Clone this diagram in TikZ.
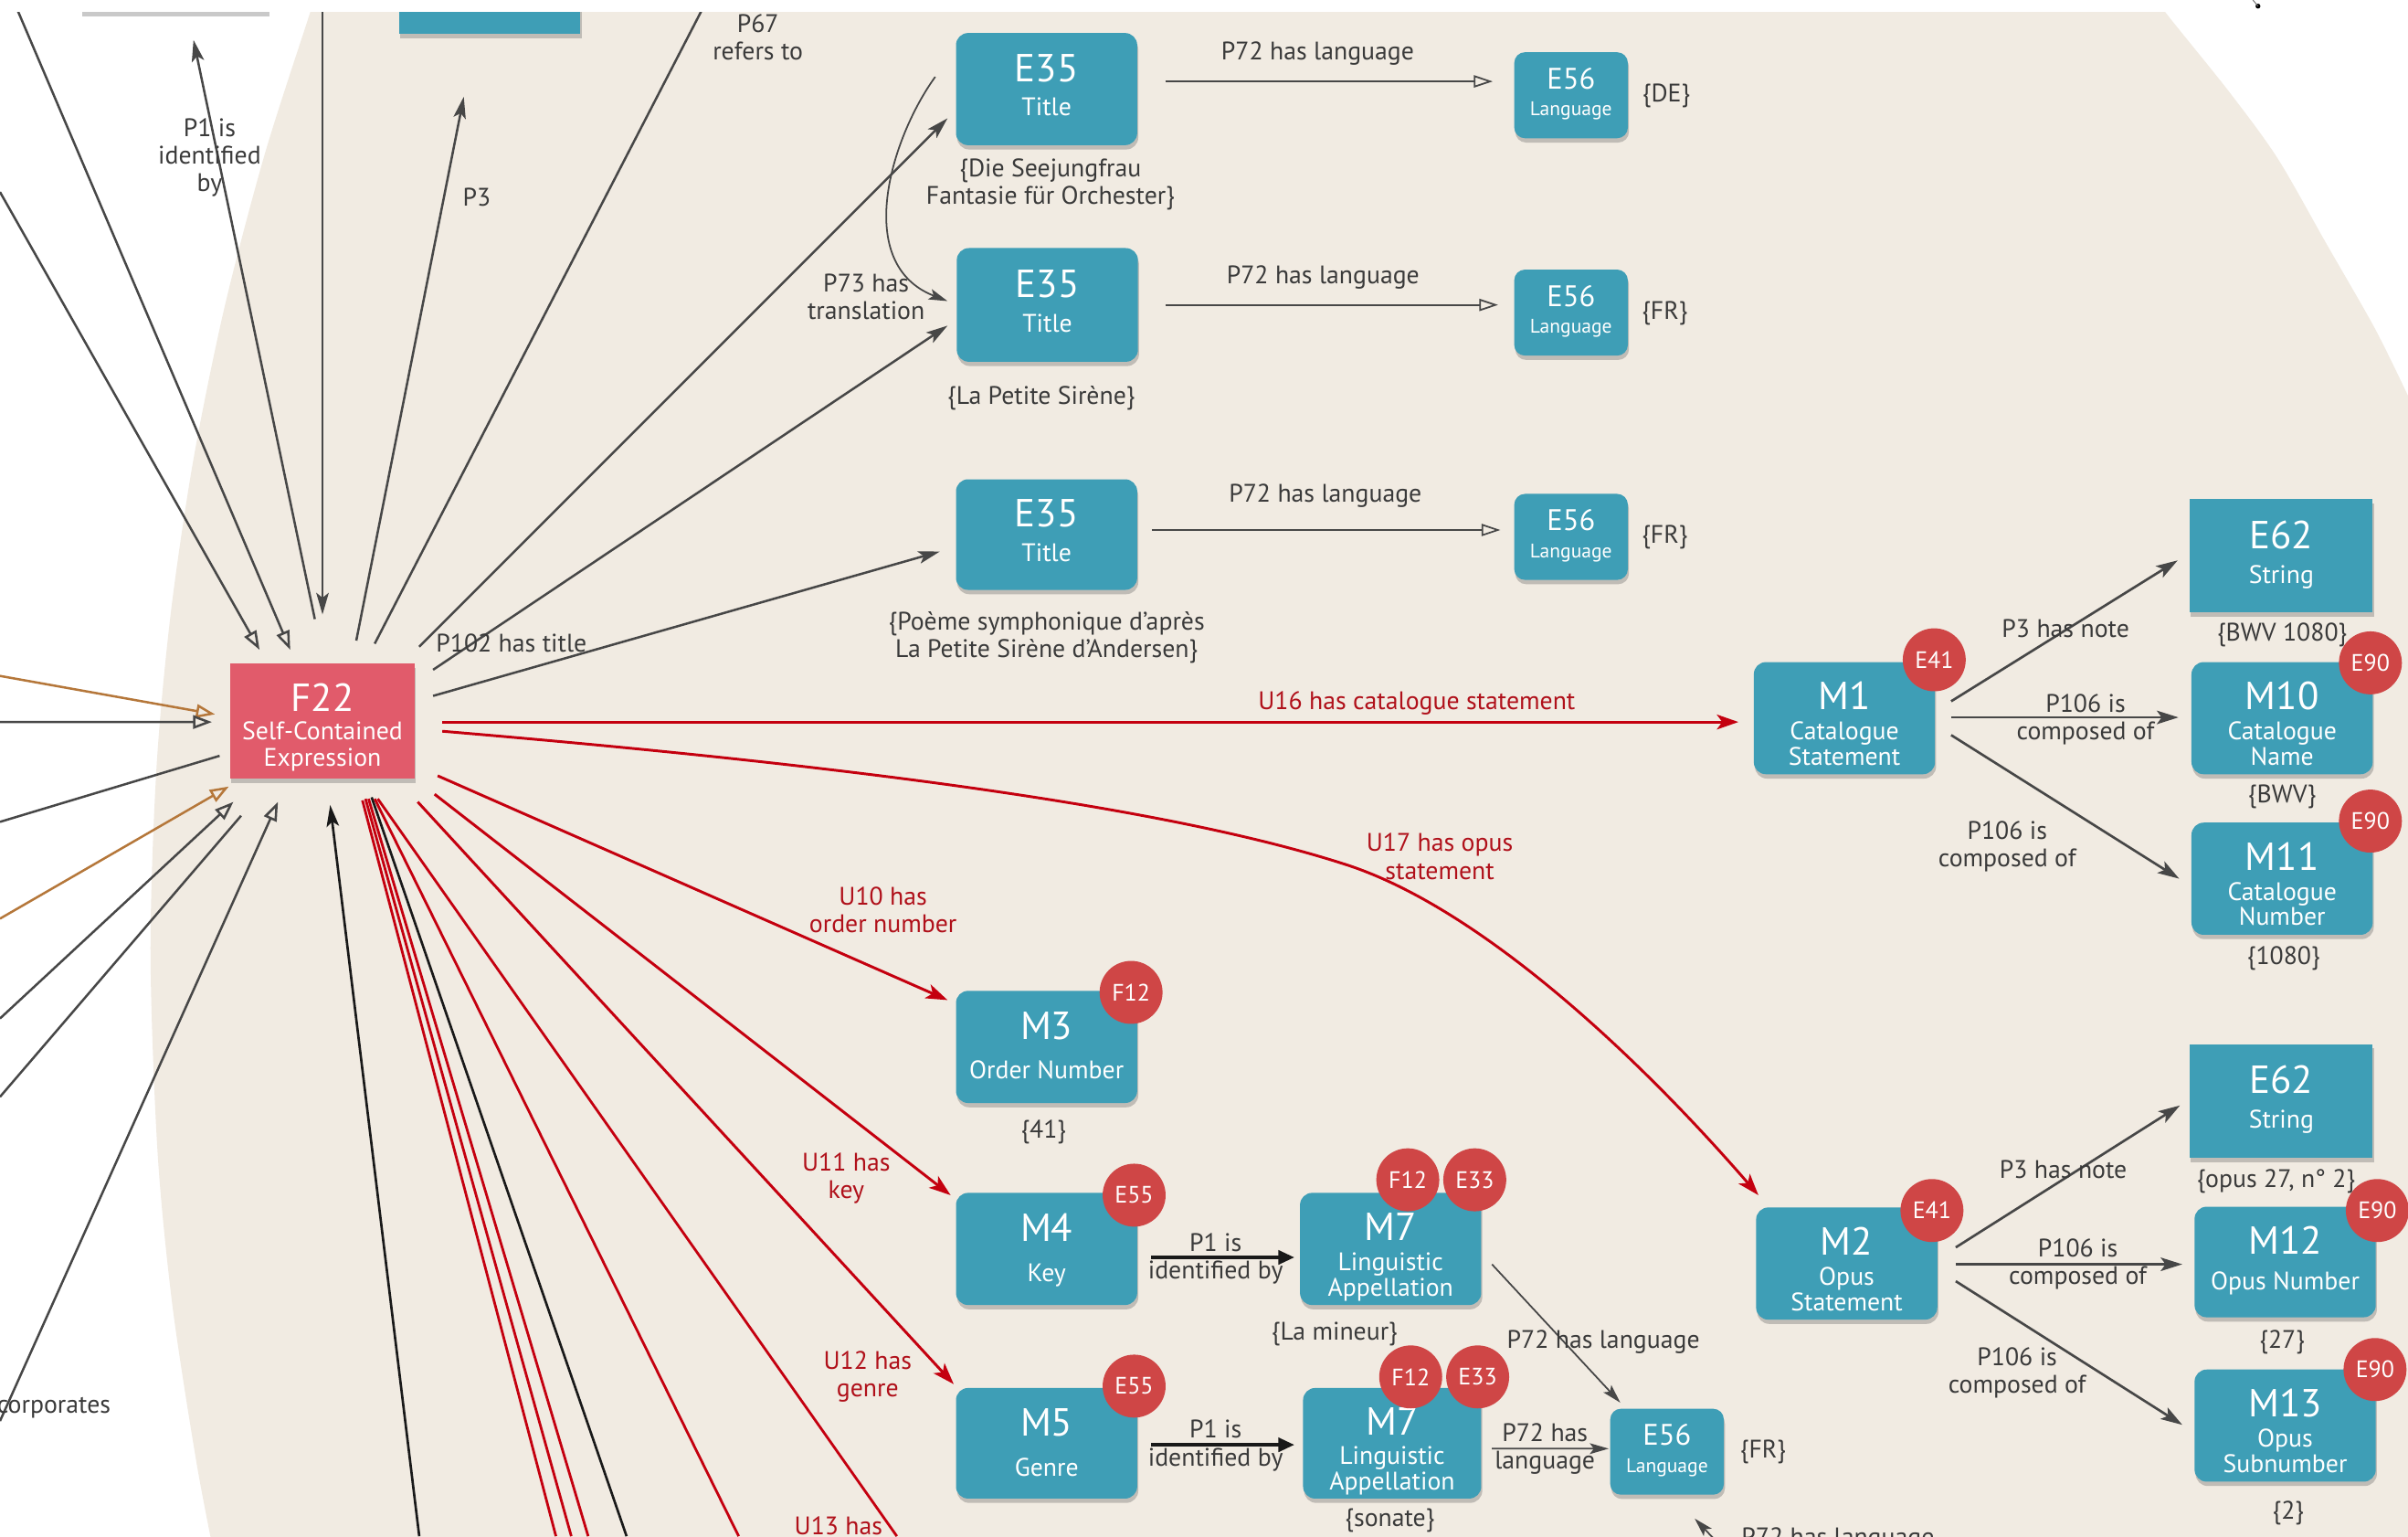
\documentclass[tikz,border=0pt]{standalone}
\usepackage{fontspec}
\setmainfont{PT Sans}
\usetikzlibrary{arrows.meta,shadows}
\definecolor{beigeC}{HTML}{F1EBE2}
\definecolor{tealC}{HTML}{3E9EB6}
\definecolor{pinkC}{HTML}{E15B6B}
\definecolor{circC}{HTML}{CF4646}
\definecolor{redL}{HTML}{C4000F}
\definecolor{redT}{HTML}{B0101A}
\definecolor{greyL}{HTML}{474747}
\definecolor{brownL}{HTML}{B5773A}
\definecolor{txtC}{HTML}{3A3A3A}
\tikzset{
  every node/.style={inner sep=0pt, outer sep=0pt},
  shad/.style={drop shadow={shadow xshift=0.4pt, shadow yshift=-1.6pt, opacity=0.35, fill=black!60}},
  tbox/.style={fill=tealC, rounded corners=4.5pt, shad},
  sbox/.style={fill=tealC, shad},
  pbox/.style={fill=pinkC, shad},
  boxttl/.style={text=white, font=\fontsize{14.5}{16}\selectfont, anchor=base},
  boxsub/.style={text=white, font=\fontsize{9.4}{11}\selectfont, anchor=base},
  badge/.style={circle, fill=circC, text=white, minimum size=0.82cm, font=\fontsize{8.8}{10}\selectfont},
  lbl/.style={text=txtC, font=\fontsize{9.4}{10.2}\selectfont, align=center},
  rlbl/.style={lbl, text=redT},
  val/.style={lbl},
  gline/.style={draw=greyL, line width=0.85pt},
  garr/.style={gline, -{Stealth[length=8pt,width=4.6pt,inset=1.8pt]}},
  garrb/.style={draw=greyL, line width=0.9pt, -{Stealth[length=8pt,width=5pt,inset=1.8pt]}},
  gopen/.style={gline, -{Triangle[open,length=7pt,width=5pt]}},
  bopen/.style={draw=brownL, line width=0.85pt, -{Triangle[open,length=7pt,width=5pt]}},
  kline/.style={draw=black!90, line width=0.9pt},
  kfill/.style={kline, -{Stealth[length=8pt,width=4.6pt,inset=1.8pt]}},
  rline/.style={draw=redL, line width=0.95pt},
  rarr/.style={draw=redL, line width=1pt, -{Stealth[length=8pt,width=5.5pt,inset=2pt]}},
  ptl/.style={draw=greyL, line width=0.6pt, -{Triangle[open,length=7pt,width=4.5pt]}},
  kthick/.style={draw=black!90, line width=1.5pt, -{Triangle[length=6pt,width=5pt]}},
  gthin/.style={draw=greyL, line width=0.6pt, -{Stealth[length=7pt,width=4pt,inset=1.5pt]}},
}
\newcommand{\BoxTwo}[8]{%
  \node[tbox, minimum width=#4*0.02cm, minimum height=#5*0.02cm] (#1) at (#2,#3) {};
  \node[boxttl] (#1t) at (#2,#3-5) {#6};
  \node[boxsub] (#1s) at (#2,#3+#8) {#7};}
\newcommand{\BoxThree}[8]{%
  \node[tbox, minimum width=#4*0.02cm, minimum height=#5*0.02cm] (#1) at (#2,#3) {};
  \node[boxttl] (#1t) at (#2,#3-5.5) {#6};
  \node[boxsub] (#1s) at (#2,#3+14) {#7};
  \node[boxsub] (#1u) at (#2,#3+30.5) {#8};}
\newcommand{\BoxLang}[3]{%
  \node[tbox, rounded corners=4pt, minimum width=74*0.02cm, minimum height=56*0.02cm] (#1) at (#2,#3) {};
  \node[boxttl, font=\fontsize{11}{12}\selectfont] (#1t) at (#2,#3-4) {E56};
  \node[boxsub, font=\fontsize{7.3}{8}\selectfont] (#1s) at (#2,#3+13.5) {Language};}
\newcommand{\BoxSq}[3]{%
  \node[sbox, minimum width=119*0.02cm, minimum height=74*0.02cm] (#1) at (#2,#3) {};
  \node[boxttl] (#1t) at (#2,#3-4.6) {E62};
  \node[boxsub] (#1s) at (#2,#3+18) {String};}
\begin{document}
\begin{tikzpicture}[x=0.02cm,y=-0.02cm]
\useasboundingbox (0,0) rectangle (1568,1000);
\clip (0,0) rectangle (1568,1000);
\fill[white] (0,0) rectangle (1568,1000);
\begin{scope}
\clip (0,8) rectangle (1568,1000);
\fill[beigeC] plot[smooth] coordinates {(204,0) (202,8) (172.5,100) (146.2,200) (125.8,300) (111.1,400) (101.9,500) (98,620) (102.6,750) (112.3,850) (127.6,950) (139,1010)}
  -- (1568,1010) -- plot[smooth] coordinates {(1568,257.7) (1546.5,214) (1514.8,158.6) (1483,103) (1451.3,59.5) (1410,8) (1406,0)} -- cycle;
% cut-off boxes at the top
\node[fill=white, shad, minimum width=122*0.02cm, minimum height=40*0.02cm] (wbox) at (114,-12) {};
\node[sbox, minimum width=118*0.02cm, minimum height=40*0.02cm] (topbox) at (319,2) {};

% ---------- nodes ----------
\node[pbox, minimum width=120*0.02cm, minimum height=75*0.02cm] (F22) at (210,469.5) {};
\node[boxttl] (F22t) at (210,463.2) {F22};
\node[boxsub] (F22s) at (210,481.5) {Self-Contained};
\node[boxsub] (F22u) at (210,498.5) {Expression};

\BoxTwo{E35a}{681.5}{58}{118}{73}{E35}{Title}{17.5}
\BoxTwo{E35b}{682}{198.5}{118}{74}{E35}{Title}{17.5}
\BoxTwo{E35c}{681.5}{348}{118}{72}{E35}{Title}{17.5}
\BoxLang{E56a}{1023}{62}
\BoxLang{E56b}{1023}{203.5}
\BoxLang{E56c}{1023}{349.5}
\BoxLang{E56d}{1085.5}{945}
\BoxThree{M1}{1201}{467.5}{118}{73}{M1}{Catalogue}{Statement}
\BoxThree{M10}{1486}{467.5}{118}{73}{M10}{Catalogue}{Name}
\BoxThree{M11}{1486}{572}{118}{73}{M11}{Catalogue}{Number}
\BoxThree{M2}{1202.5}{822.5}{118}{73}{M2}{Opus}{Statement}
\BoxTwo{M12}{1488}{821.5}{118}{72}{M12}{Opus Number}{18}
\BoxThree{M13}{1488}{928}{118}{73}{M13}{Opus}{Subnumber}
\BoxTwo{M3}{681.5}{681.5}{118}{73}{M3}{Order Number}{21}
\BoxTwo{M4}{681.5}{813}{118}{73}{M4}{Key}{21.5}
\BoxThree{M7a}{905.5}{813}{118}{73}{M7}{Linguistic}{Appellation}
\BoxTwo{M5}{681.5}{939.5}{118}{72}{M5}{Genre}{21.5}
\BoxThree{M7b}{906.5}{939.5}{116}{72}{M7}{Linguistic}{Appellation}
\BoxSq{E62a}{1485.5}{361.8}
\BoxSq{E62b}{1485.5}{716.6}

\node[badge] (M1b) at (1259.5,429.5) {E41};
\node[badge] (M10b) at (1543.5,431.5) {E90};
\node[badge] (M11b) at (1543.5,534.5) {E90};
\node[badge] (M2b) at (1258,788) {E41};
\node[badge] (M12b) at (1548,788) {E90};
\node[badge] (M13b) at (1546.5,891.5) {E90};
\node[badge] (M3b) at (736.5,646) {F12};
\node[badge] (M4b) at (738.5,778) {E55};
\node[badge] (M7af) at (916.7,768) {F12};
\node[badge] (M7ae) at (960.3,768) {E33};
\node[badge] (M5b) at (738.5,902.3) {E55};
\node[badge] (M7bf) at (918.6,896.3) {F12};
\node[badge] (M7be) at (962.2,896.3) {E33};

% ---------- free ends ----------
\coordinate (oA) at (0,125);
\coordinate (oB) at (8.6,0);
\coordinate (oV) at (210,0);
\coordinate (oP1) at (126,26);
\coordinate (oP3) at (302,63);
\coordinate (oP67) at (460.4,0);
\coordinate (oL1) at (0,440);
\coordinate (oL2) at (0,470);
\coordinate (oL3) at (0,535);
\coordinate (oL4) at (0,598);
\coordinate (oL5) at (0,663);
\coordinate (oL6) at (0,714);
\coordinate (oL7) at (0,925);
\coordinate (oK) at (273,1000);
\coordinate (oR1) at (362,1000);
\coordinate (oR2) at (372,1000);
\coordinate (oR3) at (383,1000);
\coordinate (oBk) at (408,1000);
\coordinate (oR4) at (481,1000);
\coordinate (oR5) at (584,1000);
\coordinate (oT1) at (1122,1008);
\coordinate (oT2) at (1103.5,988.5);

% ---------- connectors around F22 ----------
\draw[gopen] (oA) -- ([shift={(-41,-46.5)}]F22.center);
\draw[gopen] (oB) -- ([shift={(-21,-46.5)}]F22.center);
\draw[garr] (oV) -- ([shift={(0,-69.5)}]F22.center);
\draw[garr] ([shift={(-5,-66.5)}]F22.center) -- (oP1);
\draw[garr] ([shift={(22,-52.5)}]F22.center) -- (oP3);
\draw[gline] ([shift={(34,-50.5)}]F22.center) -- (oP67);
\draw[garr] ([shift={(63,-48.5)}]F22.center) -- ([shift={(-64.5,19)}]E35a.center);
\draw[garr] ([shift={(72,-33.5)}]F22.center) -- ([shift={(-65,13.5)}]E35b.center);
\draw[garr] ([shift={(72,-16.5)}]F22.center) -- ([shift={(-69.5,11)}]E35c.center);
\draw[bopen] (oL1) -- ([shift={(-70,-4.5)}]F22.center);
\draw[gopen] (oL2) -- ([shift={(-72,0.5)}]F22.center);
\draw[gline] ([shift={(-67,22.5)}]F22.center) -- (oL3);
\draw[bopen] (oL4) -- ([shift={(-61,42.5)}]F22.center);
\draw[gopen] (oL5) -- ([shift={(-58,52.5)}]F22.center);
\draw[gline] ([shift={(-53,61.5)}]F22.center) -- (oL6);
\draw[gopen] (oL7) -- ([shift={(-29,52.5)}]F22.center);
\draw[kfill] (oK) -- ([shift={(5,54.5)}]F22.center);
\draw[rline] ([shift={(26,51.5)}]F22.center) -- (oR1);
\draw[rline] ([shift={(28,50.5)}]F22.center) -- (oR2);
\draw[rline] ([shift={(30,50.5)}]F22.center) -- (oR3);
\draw[kline] ([shift={(32,49.5)}]F22.center) -- (oBk);
\draw[rline] ([shift={(34,50.5)}]F22.center) -- (oR4);
\draw[rline] ([shift={(36,50.5)}]F22.center) -- (oR5);
\draw[rarr] ([shift={(75,35.5)}]F22.center) -- ([shift={(-64.5,-30.5)}]M3.center);
\draw[rarr] ([shift={(73,47.5)}]F22.center) -- ([shift={(-62.5,-35)}]M4.center);
\draw[rarr] ([shift={(62,52.5)}]F22.center) -- ([shift={(-60.5,-38.5)}]M5.center);
\draw[rarr] ([shift={(78,0.5)}]F22.center) -- ([shift={(-69,2.5)}]M1.center);
\draw[rarr] ([shift={(78,6.5)}]F22.center) .. controls (550,498) and (760,525) .. (877,563)
   .. controls (960,590) and (1060,680) .. ([shift={(-57.5,-44.5)}]M2.center);

% ---------- other connectors ----------
\draw[gthin] ([shift={(-72.5,-8)}]E35a.center) .. controls (580,90) and (555,172) .. ([shift={(-65,-2.5)}]E35b.center);
\draw[ptl] ([shift={(77.5,-5)}]E35a.center) -- ([shift={(-51,-9)}]E56a.center);
\draw[ptl] ([shift={(77,0)}]E35b.center) -- ([shift={(-47.5,-5)}]E56b.center);
\draw[ptl] ([shift={(68.5,-3)}]E35c.center) -- ([shift={(-46,-4.5)}]E56c.center);

\draw[garrb] ([shift={(69.5,-11)}]M1.center) -- ([shift={(-67.5,3)}]E62a.center);
\draw[garrb] ([shift={(69.5,-0.5)}]M1.center) -- ([shift={(-67.5,-0.5)}]M10.center);
\draw[garrb] ([shift={(69.5,11)}]M1.center) -- ([shift={(-67,0)}]M11.center);
\draw[garrb] ([shift={(71,-10.5)}]M2.center) -- ([shift={(-66,3)}]E62b.center);
\draw[garrb] ([shift={(71,0.5)}]M2.center) -- ([shift={(-67,1.5)}]M12.center);
\draw[garrb] ([shift={(71,11.5)}]M2.center) -- ([shift={(-67,-0.5)}]M13.center);

\draw[kthick] ([shift={(68,5.5)}]M4.center) -- ([shift={(-62.5,5.5)}]M7a.center);
\draw[kthick] ([shift={(68,1)}]M5.center) -- ([shift={(-63.5,1)}]M7b.center);
\draw[gthin] ([shift={(66,10)}]M7a.center) -- ([shift={(-30.5,-32)}]E56d.center);
\draw[gthin] ([shift={(65,3.5)}]M7b.center) -- ([shift={(-38,-2)}]E56d.center);
\draw[gthin] (oT1) -- (oT2);

% ---------- values ----------
\node[val] (v1) at (684,120) {\{Die Seejungfrau\\Fantasie für Orchester\}};
\node[val] (v2) at (678,259) {\{La Petite Sirène\}};
\node[val] (v3) at (681.5,415) {\{Poème symphonique d’après\\La Petite Sirène d’Andersen\}};
\node[val] (v4) at (1085,62.5) {\{DE\}};
\node[val] (v5) at (1084,204) {\{FR\}};
\node[val] (v6) at (1084,349.5) {\{FR\}};
\node[val] (v7) at (1486,413.5) {\{BWV 1080\}};
\node[val] (v8) at (1486,518.5) {\{BWV\}};
\node[val] (v9) at (1487,624) {\{1080\}};
\node[val] (v10) at (1482,769) {\{opus 27, n° 2\}};
\node[val] (v11) at (1486,873.5) {\{27\}};
\node[val] (v12) at (1490,985) {\{2\}};
\node[val] (v13) at (679.5,737) {\{41\}};
\node[val] (v14) at (869,868.5) {\{La mineur\}};
\node[val] (v15) at (905,989.5) {\{sonate\}};
\node[val] (v16) at (1148,945) {\{FR\}};

% ---------- labels ----------
\node[lbl] (l1) at (858,35) {P72 has language};
\node[lbl] (l2) at (861.5,180.5) {P72 has language};
\node[lbl] (l3) at (863,323) {P72 has language};
\node[lbl] (l4) at (564,193) {P73 has\\translation};
\node[lbl] (l5) at (333,418.5) {P102 has title};
\node[lbl] (l6) at (136.5,102.5) {P1 is\\identified\\by};
\node[lbl] (l7) at (310.5,128.5) {P3};
\node[lbl] (l8) at (493.5,24.5) {P67\\refers to};
\node[lbl, anchor=east] (l9) at (72,915.5) {incorporates};
\node[rlbl] (r1) at (922.5,458) {U16 has catalogue statement};
\node[rlbl] (r2) at (937.5,557.5) {U17 has opus\\statement};
\node[rlbl] (r3) at (575,592.5) {U10 has\\order number};
\node[rlbl] (r4) at (551,767) {U11 has\\key};
\node[rlbl] (r5) at (565,896) {U12 has\\genre};
\node[rlbl] (r6) at (546,993) {U13 has};
\node[lbl] (l10) at (1345,409) {P3 has note};
\node[lbl] (l11) at (1358,468.5) {P106 is\\composed of};
\node[lbl] (l12) at (1307,551) {P106 is\\composed of};
\node[lbl] (l13) at (1343.5,761.5) {P3 has note};
\node[lbl] (l14) at (1353,823) {P106 is\\composed of};
\node[lbl] (l15) at (1313.5,893.5) {P106 is\\composed of};
\node[lbl] (l16) at (791.5,819.5) {P1 is\\identified by};
\node[lbl] (l17) at (791.5,941) {P1 is\\identified by};
\node[lbl] (l18) at (1044,873.5) {P72 has language};
\node[lbl] (l19) at (1006,943) {P72 has\\language};
\node[lbl, anchor=base west] (l20) at (1134,1006) {P72 has language};
\end{scope}
\fill[black] (1470.3,4) circle[radius=1.6];
\draw[black!60, line width=0.3pt] (1470.3,4) -- (1467,0);
\end{tikzpicture}
\end{document}
